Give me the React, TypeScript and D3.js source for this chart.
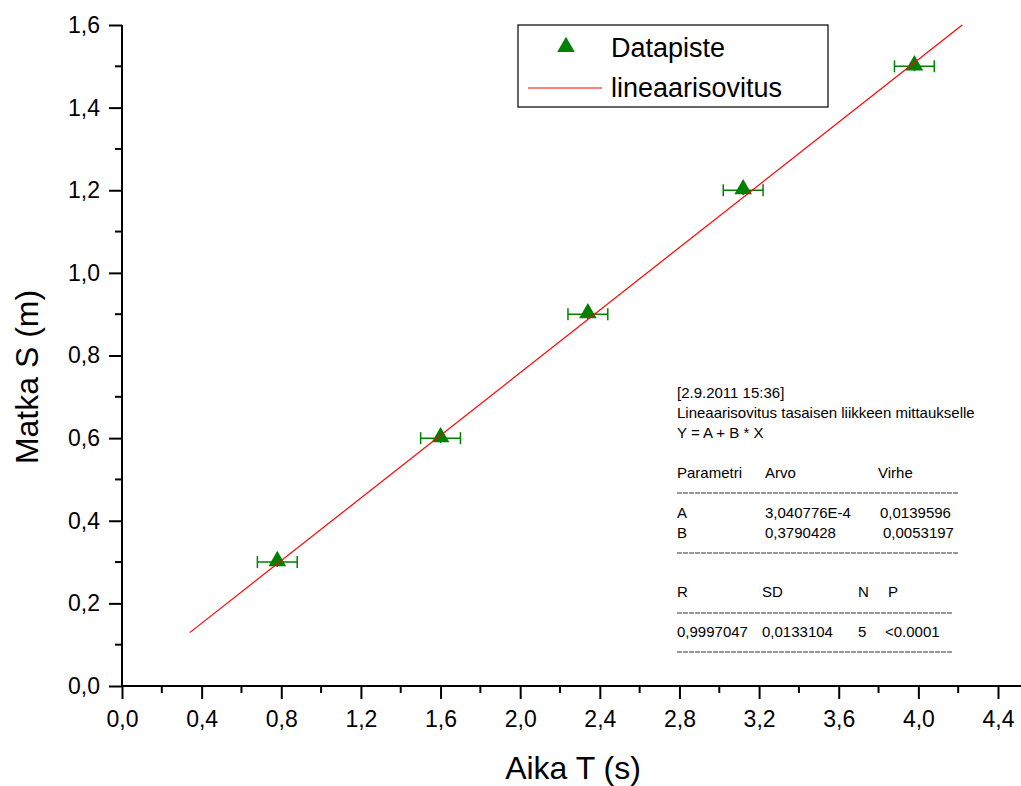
import React, { useEffect, useRef } from "react";
import * as d3 from "d3";

// measured points (time s, distance m)
const timeValues = [0.78, 1.60, 2.34, 3.12, 3.98];
const distValues = [0.30, 0.60, 0.90, 1.20, 1.50];
const timeErrors = [0.1, 0.1, 0.1, 0.1, 0.1];
const distErrors = [0.012, 0.012, 0.012, 0.012, 0.012];

// linear fit Y = A + B * X
const fitA = 3.040776e-4;
const fitB = 0.3790428;
const fitRange = [0.34, 4.22];

const xTicks = [0, 0.4, 0.8, 1.2, 1.6, 2.0, 2.4, 2.8, 3.2, 3.6, 4.0, 4.4];
const yTicks = [0, 0.2, 0.4, 0.6, 0.8, 1.0, 1.2, 1.4, 1.6];

const legendLabels = ["Datapiste", "lineaarisovitus"];

const headerLines = [
  "[2.9.2011 15:36]",
  "Lineaarisovitus tasaisen liikkeen mittaukselle",
  "Y = A + B * X",
];
const paramHeader = ["Parametri", "Arvo", "Virhe"];
const paramRows = [
  ["A", "3,040776E-4", "0,0139596"],
  ["B", "0,3790428", "0,0053197"],
];
const statHeader = ["R", "SD", "N", "P"];
const statRow = ["0,9997047", "0,0133104", "5", "<0.0001"];

const W = 1021;
const H = 786;
const FONT = "'Liberation Sans', Arial, sans-serif";
const GREEN = "#008000";

const fmt = (v: number) => d3.format(".1f")(v).replace(".", ",");

const Chart = () => {
  const ref = useRef<SVGGElement>(null);

  useEffect(() => {
    const g = d3.select(ref.current);
    g.selectAll("*").remove();

    const x = d3.scaleLinear().domain([0, 4.4]).range([122, 998]);
    const y = d3.scaleLinear().domain([0, 1.6]).range([686, 25]);

    // minor ticks
    const xMinor = d3.range(0.2, 4.5, 0.4);
    const yMinor = d3.range(0.1, 1.6, 0.2);

    g.append("g")
      .selectAll("line")
      .data(xMinor)
      .enter().append("line")
        .attr("x1", d => x(d)).attr("x2", d => x(d))
        .attr("y1", y(0)).attr("y2", y(0) + 7)
        .attr("stroke", "#000").attr("stroke-width", 2);

    g.append("g")
      .selectAll("line")
      .data(yMinor)
      .enter().append("line")
        .attr("y1", d => y(d)).attr("y2", d => y(d))
        .attr("x1", x(0)).attr("x2", x(0) - 7)
        .attr("stroke", "#000").attr("stroke-width", 2);

    const xAxis = d3.axisBottom(x)
      .tickValues(xTicks)
      .tickFormat(d => fmt(d as number))
      .tickSize(13)
      .tickPadding(12);

    const xAxisG = g.append("g")
      .attr("transform", `translate(0, ${y(0)})`)
      .call(xAxis);
    xAxisG.select(".domain").remove();
    xAxisG.selectAll("line").attr("stroke-width", 2);
    xAxisG.selectAll("text")
      .attr("font-family", FONT)
      .attr("font-size", 23)
      .attr("fill", "#000");

    const yAxis = d3.axisLeft(y)
      .tickValues(yTicks)
      .tickFormat(d => fmt(d as number))
      .tickSize(13)
      .tickPadding(9);

    const yAxisG = g.append("g")
      .attr("transform", `translate(${x(0)}, 0)`)
      .call(yAxis);
    yAxisG.select(".domain").remove();
    yAxisG.selectAll("line").attr("stroke-width", 2);
    yAxisG.selectAll("text")
      .attr("font-family", FONT)
      .attr("font-size", 23)
      .attr("fill", "#000");

    // axis lines
    g.append("line")
      .attr("x1", x(0) - 1).attr("x2", W)
      .attr("y1", y(0)).attr("y2", y(0))
      .attr("stroke", "#000").attr("stroke-width", 2);
    g.append("line")
      .attr("x1", x(0)).attr("x2", x(0))
      .attr("y1", y(1.6)).attr("y2", y(0))
      .attr("stroke", "#000").attr("stroke-width", 2);

    // axis titles
    g.append("text")
      .attr("x", 573)
      .attr("y", 779)
      .attr("text-anchor", "middle")
      .attr("font-family", FONT)
      .attr("font-size", 32)
      .text("Aika T (s)");

    g.append("text")
      .attr("transform", "translate(38, 377) rotate(-90)")
      .attr("text-anchor", "middle")
      .attr("font-family", FONT)
      .attr("font-size", 32)
      .text("Matka S (m)");

    const fitLine = d3.line<number>()
      .x(d => x(d))
      .y(d => y(fitA + fitB * d));

    const pts = timeValues.map((t, i) => ({
      t, s: distValues[i], et: timeErrors[i], es: distErrors[i],
    }));

    const eg = g.append("g").attr("stroke", GREEN).attr("stroke-width", 1.5);
    pts.forEach(p => {
      eg.append("line")
        .attr("x1", x(p.t - p.et)).attr("x2", x(p.t + p.et))
        .attr("y1", y(p.s)).attr("y2", y(p.s));
      [p.t - p.et, p.t + p.et].forEach(v => {
        eg.append("line")
          .attr("x1", x(v)).attr("x2", x(v))
          .attr("y1", y(p.s) - 6).attr("y2", y(p.s) + 6);
      });
      eg.append("line")
        .attr("x1", x(p.t)).attr("x2", x(p.t))
        .attr("y1", y(p.s - p.es)).attr("y2", y(p.s + p.es));
    });

    const tri = d3.symbol().type(d3.symbolTriangle).size(135);
    g.selectAll(".pt")
      .data(pts)
      .enter().append("path")
        .attr("class", "pt")
        .attr("d", tri)
        .attr("transform", d => `translate(${x(d.t)}, ${y(d.s) - 1})`)
        .attr("fill", GREEN);

    // fit line drawn over the markers
    g.append("path")
      .attr("d", fitLine(fitRange))
      .attr("fill", "none")
      .attr("stroke", "#ff0000")
      .attr("stroke-width", 1.2);

    // legend
    const lg = g.append("g");
    lg.append("rect")
      .attr("x", 518).attr("y", 25)
      .attr("width", 310).attr("height", 82)
      .attr("fill", "#fff")
      .attr("stroke", "#000").attr("stroke-width", 1.2);
    lg.append("path")
      .attr("d", tri)
      .attr("transform", "translate(566, 47)")
      .attr("fill", GREEN);
    lg.append("line")
      .attr("x1", 528).attr("x2", 602)
      .attr("y1", 88).attr("y2", 88)
      .attr("stroke", "#ff0000").attr("stroke-width", 1);
    lg.selectAll("text")
      .data(legendLabels)
      .enter().append("text")
        .attr("x", 611)
        .attr("y", (d, i) => 57 + i * 40)
        .attr("font-family", FONT)
        .attr("font-size", 27)
        .text(d => d);

    // fit report
    const rg = g.append("g")
      .attr("font-family", FONT)
      .attr("font-size", 15)
      .attr("fill", "#000");
    headerLines.forEach((s, i) => {
      rg.append("text").attr("x", 677).attr("y", 398 + i * 20).text(s);
    });
    const pCols = [677, 765, 878];
    paramHeader.forEach((s, i) => {
      rg.append("text").attr("x", pCols[i]).attr("y", 478).text(s);
    });
    paramRows.forEach((row, r) => {
      row.forEach((s, i) => {
        const xx = i === 2 ? (r === 0 ? 880 : 883) : pCols[i];
        rg.append("text").attr("x", xx).attr("y", 518 + r * 20).text(s);
      });
    });
    const sCols = [677, 762, 858, 888];
    statHeader.forEach((s, i) => {
      rg.append("text").attr("x", sCols[i]).attr("y", 597).text(s);
    });
    statRow.forEach((s, i) => {
      const xx = i === 3 ? 885 : sCols[i];
      rg.append("text").attr("x", xx).attr("y", 637).text(s);
    });

    const dashes = [[493, 958], [553, 958], [613, 952], [652, 952]];
    dashes.forEach(([yy, x2]) => {
      rg.append("line")
        .attr("x1", 677).attr("x2", x2)
        .attr("y1", yy).attr("y2", yy)
        .attr("stroke", "#333")
        .attr("stroke-width", 1)
        .attr("stroke-dasharray", "5,1");
    });
  }, []);

  return (
    <svg
      width={W}
      height={H}
      style={{ position: "absolute", left: 0, top: 0, background: "#fff" }}
    >
      <g ref={ref} />
    </svg>
  );
};

export default function App() {
  return <Chart />;
}
